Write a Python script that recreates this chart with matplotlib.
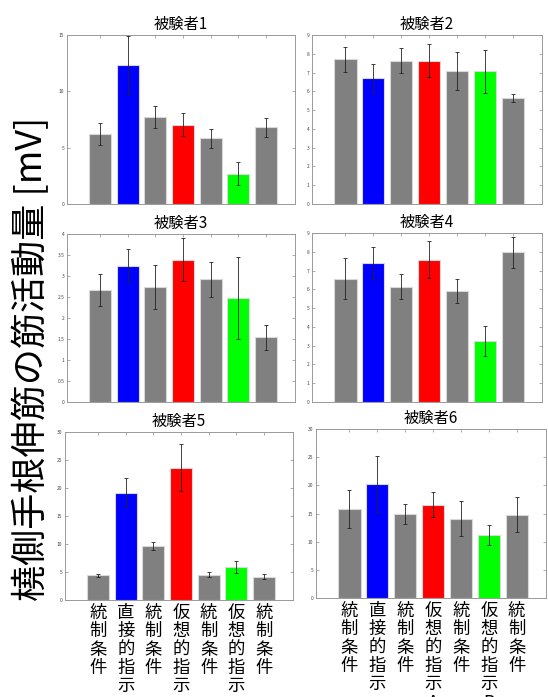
import matplotlib
matplotlib.use('Agg')
from matplotlib import pyplot as plt

plt.rcParams['font.family'] = ['Noto Sans CJK JP', 'DejaVu Sans']

conditions = ['統制条件', '直接的指示', '統制条件', '仮想的指示A', '統制条件', '仮想的指示B', '統制条件']
bar_colors = ['#808080', '#0000ff', '#808080', '#ff0000', '#808080', '#00ff00', '#808080']

subjects = ['被験者1', '被験者2', '被験者3', '被験者4', '被験者5', '被験者6']

mean1 = [6.21, 12.33, 7.75, 7.04, 5.82, 2.70, 6.80]
err1 = [0.95, 2.62, 0.97, 1.01, 0.86, 1.0, 0.82]
mean2 = [7.70, 6.70, 7.64, 7.64, 7.09, 7.07, 5.64]
err2 = [0.68, 0.75, 0.68, 0.89, 1.0, 1.14, 0.22]
mean3 = [2.66, 3.25, 2.74, 3.39, 2.92, 2.47, 1.54]
err3 = [0.38, 0.39, 0.52, 0.51, 0.42, 0.98, 0.30]
mean4 = [6.56, 7.42, 6.15, 7.58, 5.90, 3.23, 7.97]
err4 = [1.09, 0.85, 0.68, 0.99, 0.65, 0.80, 0.84]
mean5 = [4.40, 19.13, 9.63, 23.59, 4.52, 5.88, 4.16]
err5 = [0.33, 2.6, 0.77, 4.2, 0.41, 1.0, 0.47]
mean6 = [15.8, 20.24, 14.91, 16.57, 14.08, 11.18, 14.79]
err6 = [3.3, 4.9, 1.78, 2.2, 3.08, 1.7, 3.08]

means = [mean1, mean2, mean3, mean4, mean5, mean6]
errs = [err1, err2, err3, err4, err5, err6]
ylims = [15, 9, 4, 9, 30, 30]
ysteps = [5, 1, 0.5, 1, 5, 5]

W, H = 548, 697
fig = plt.figure(figsize=(W / 100, H / 100), dpi=100)

# axes boxes in pixels: left, top, right, bottom
boxes = [(67, 35, 295, 204), (312, 35, 542, 204),
         (67, 234, 295, 402), (312, 233, 542, 402),
         (65, 432, 293, 600), (316, 429, 546, 598)]

x = list(range(1, 8))
for i, (l, t, r, b) in enumerate(boxes):
    ax = fig.add_axes([l / W, 1 - b / H, (r - l) / W, (b - t) / H])
    ax.bar(x, means[i], width=0.8, color=bar_colors, edgecolor='#d8d8d8', linewidth=0.8, zorder=2)
    ax.errorbar(x, means[i], yerr=errs[i], fmt='none', ecolor='#222222',
                elinewidth=0.6, capsize=1.6, capthick=0.6, zorder=3)
    ax.set_xlim(-0.2, 8.05)
    ax.set_ylim(0, ylims[i])
    n = int(round(ylims[i] / ysteps[i]))
    ax.set_yticks([k * ysteps[i] for k in range(n + 1)])
    ax.set_yticklabels(['%g' % (k * ysteps[i]) for k in range(n + 1)], fontsize=3.5, color='#444444')
    ax.set_xticks(x)
    if i >= 4:
        # vertical, one character per line
        ax.set_xticklabels(['\n'.join(c) for c in conditions], fontsize=12.5,
                           linespacing=1.02, va='top')
    else:
        ax.set_xticklabels([])
    ax.tick_params(direction='in', length=2, width=0.5, color='#888888',
                   top=True, right=True, pad=2)
    ax.tick_params(axis='x', pad=3)
    for s in ax.spines.values():
        s.set_color('#999999')
        s.set_linewidth(0.7)
    ax.set_title(subjects[i], fontsize=11, pad=4)

fig.text(0.058, 0.485, '橈側手根伸筋の筋活動量 [mV]', rotation=90,
         fontsize=26, ha='center', va='center')

plt.savefig('out.png', dpi=100)
plt.close()
